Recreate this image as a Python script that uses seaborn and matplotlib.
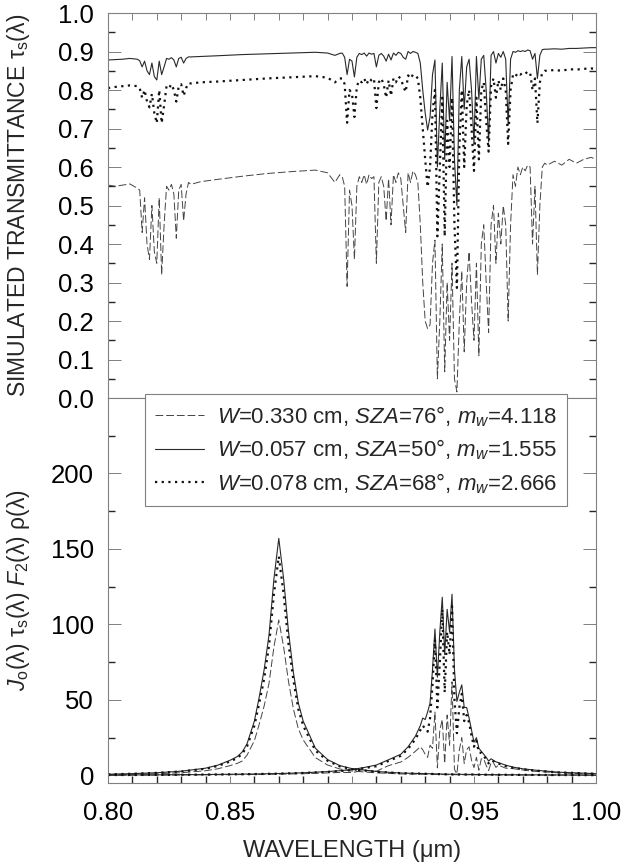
import numpy as np
import seaborn as sns
import matplotlib.pyplot as plt
from matplotlib.lines import Line2D
from matplotlib.ticker import MultipleLocator

sns.set_theme(style='ticks')
plt.rcParams['font.family'] = ['Liberation Sans', 'DejaVu Sans']
plt.rcParams['mathtext.fontset'] = 'custom'
plt.rcParams['mathtext.rm'] = 'Liberation Sans'
plt.rcParams['mathtext.it'] = 'Liberation Sans:italic'

# wavelength samples (nm) for the transmittance spectra
wl_top = [800, 803, 806, 809, 812,
          813, 814, 815, 816, 817, 818, 819, 820, 821, 822, 823, 824, 825,
          826, 827, 828, 829, 830, 831, 832, 833, 834,
          838, 845, 855, 865, 875, 885, 890, 893, 895,
          896, 897, 898, 899, 900,
          901, 902, 903, 904, 905, 906, 907, 908, 909, 910,
          911, 912, 913, 914, 915, 916, 917, 918, 919, 920,
          921, 922, 923, 924, 925, 926, 927, 928, 929, 930,
          931, 932, 933, 934, 935, 936, 937, 938, 939, 940,
          941, 942, 943, 944, 945, 946, 947, 948, 949, 950,
          951, 952, 953, 954, 955, 956, 957, 958, 959, 960,
          961, 962, 963, 964, 965, 966, 967, 968, 969, 970,
          971, 972, 973, 974, 975, 976, 977, 978, 979, 980,
          983, 986, 989, 992, 995, 998, 1000]

# W=0.330 cm (dashed)
tau_w330 = [0.553, 0.55, 0.553, 0.556, 0.545,
            0.54, 0.43, 0.52, 0.40, 0.36, 0.50, 0.38, 0.35, 0.52, 0.32, 0.45, 0.55, 0.54,
            0.555, 0.53, 0.415, 0.54, 0.555, 0.46, 0.53, 0.56, 0.555,
            0.562, 0.568, 0.576, 0.583, 0.588, 0.592, 0.585, 0.56, 0.58,
            0.575, 0.55, 0.29, 0.54, 0.50,
            0.36, 0.55, 0.575, 0.56, 0.58, 0.555, 0.58, 0.57, 0.575, 0.35,
            0.56, 0.575, 0.55, 0.46, 0.57, 0.45, 0.58, 0.56, 0.585, 0.57,
            0.50, 0.43, 0.585, 0.56, 0.59, 0.58, 0.56, 0.45, 0.30, 0.20,
            0.18, 0.19, 0.35, 0.41, 0.05, 0.20, 0.40, 0.068, 0.30, 0.15,
            0.35, 0.05, 0.016, 0.20, 0.33, 0.12, 0.30, 0.38, 0.25, 0.15,
            0.35, 0.11, 0.40, 0.45, 0.30, 0.17, 0.45, 0.50, 0.35, 0.48,
            0.40, 0.50, 0.45, 0.20, 0.45, 0.58, 0.55, 0.60, 0.58, 0.60,
            0.59, 0.605, 0.60, 0.40, 0.55, 0.32, 0.50, 0.60, 0.61, 0.605,
            0.615, 0.605, 0.62, 0.61, 0.62, 0.625, 0.62]

# W=0.057 cm (solid)
tau_w057 = [0.878, 0.879, 0.88, 0.882, 0.88,
            0.876, 0.86, 0.875, 0.85, 0.84, 0.87, 0.835, 0.826, 0.875, 0.84, 0.86, 0.882, 0.88,
            0.884, 0.878, 0.86, 0.882, 0.885, 0.87, 0.882, 0.886, 0.886,
            0.887, 0.889, 0.892, 0.894, 0.896, 0.898, 0.896, 0.89, 0.895,
            0.896, 0.885, 0.84, 0.88, 0.875,
            0.834, 0.885, 0.895, 0.892, 0.896, 0.888, 0.896, 0.893, 0.895, 0.86,
            0.89, 0.895, 0.888, 0.875, 0.893, 0.878, 0.896, 0.89, 0.898, 0.895,
            0.885, 0.88, 0.90, 0.895, 0.90, 0.898, 0.895, 0.87, 0.80, 0.74,
            0.696, 0.73, 0.84, 0.878, 0.60, 0.75, 0.87, 0.62, 0.82, 0.72,
            0.887, 0.62, 0.50, 0.80, 0.887, 0.75, 0.86, 0.88, 0.80, 0.66,
            0.887, 0.776, 0.88, 0.89, 0.80, 0.665, 0.89, 0.90, 0.87, 0.895,
            0.885, 0.90, 0.88, 0.71, 0.88, 0.90, 0.898, 0.902, 0.90, 0.902,
            0.90, 0.904, 0.902, 0.88, 0.895, 0.83, 0.89, 0.905, 0.906, 0.906,
            0.907, 0.906, 0.908, 0.908, 0.909, 0.91, 0.91]

# W=0.078 cm (dotted)
tau_w078 = [0.805, 0.808, 0.81, 0.812, 0.81,
            0.805, 0.78, 0.80, 0.77, 0.755, 0.79, 0.74, 0.714, 0.80, 0.714, 0.76, 0.81, 0.805,
            0.815, 0.80, 0.77, 0.81, 0.815, 0.785, 0.805, 0.818, 0.817,
            0.82, 0.822, 0.826, 0.83, 0.833, 0.836, 0.832, 0.82, 0.83,
            0.83, 0.815, 0.715, 0.80, 0.79,
            0.73, 0.81, 0.825, 0.82, 0.83, 0.815, 0.83, 0.825, 0.83, 0.753,
            0.82, 0.83, 0.815, 0.78, 0.825, 0.785, 0.83, 0.82, 0.835, 0.83,
            0.81, 0.795, 0.838, 0.83, 0.84, 0.838, 0.83, 0.78, 0.70, 0.62,
            0.548, 0.60, 0.74, 0.80, 0.42, 0.60, 0.78, 0.42, 0.72, 0.60,
            0.78, 0.45, 0.286, 0.65, 0.80, 0.60, 0.76, 0.80, 0.70, 0.59,
            0.78, 0.62, 0.80, 0.82, 0.72, 0.64, 0.81, 0.83, 0.78, 0.825,
            0.80, 0.83, 0.80, 0.66, 0.80, 0.84, 0.835, 0.845, 0.84, 0.845,
            0.842, 0.848, 0.845, 0.80, 0.83, 0.714, 0.82, 0.845, 0.85, 0.85,
            0.852, 0.85, 0.854, 0.853, 0.855, 0.856, 0.855]

# lower panel: 0.87 um channel
wl_ch1 = [800, 810, 820, 830, 840, 845, 850, 853, 855, 857, 860, 862, 864, 866, 868,
          870, 872, 874, 876, 878, 880, 885, 890, 895, 900, 910, 920, 940, 960, 980, 1000]
sig1_w057 = [0.8, 1.2, 1.8, 2.8, 4.8, 6.8, 10, 12.5, 15.5, 21, 36, 52, 70, 93, 130,
             157, 130, 95, 68, 48, 36, 18, 10.5, 6.5, 4.5, 2.6, 1.6, 0.8, 0.5, 0.35, 0.25]
sig1_w078 = [0.7, 1.1, 1.7, 2.6, 4.4, 6.3, 9.2, 11.5, 14.3, 19.3, 33, 48, 64, 86, 120,
             145, 120, 87, 63, 44, 33, 16.5, 9.7, 6.0, 4.1, 2.4, 1.5, 0.7, 0.45, 0.3, 0.2]
sig1_w330 = [0.5, 0.8, 1.1, 1.8, 3.1, 4.4, 6.5, 8.0, 9.5, 13.5, 23, 34, 46, 61, 85,
             103, 85, 62, 44, 31, 23.5, 11.8, 6.9, 4.3, 2.9, 1.7, 1.0, 0.5, 0.3, 0.2, 0.15]

# lower panel: 0.94 um channel
wl_ch2 = [800, 820, 840, 860, 870, 880, 890, 895, 900, 905, 910, 915, 920, 923, 926, 928, 929, 930,
          931, 932, 933, 934, 935, 936, 937, 938, 939, 940,
          941, 942, 943, 944, 945, 946, 947, 948, 949, 950,
          951, 952, 953, 954, 955, 956, 957, 958, 959, 960,
          963, 966, 970, 975, 980, 985, 990, 1000]
sig2_w057 = [0.31, 0.41, 0.61, 0.96, 1.27, 1.75, 2.54, 3.13, 3.9, 5.25, 6.9, 10.4, 14, 19, 26, 33, 38, 37,
             42, 48, 70, 97, 65, 95, 118, 80, 110, 95,
             120, 70, 49, 55, 60, 45, 45, 38, 30, 22,
             25, 18, 16, 14, 12, 9.5, 11, 10, 9, 8.5,
             6.8, 5.5, 4.4, 3.5, 2.8, 2.1, 1.8, 1.2]
sig2_w078 = [0.28, 0.35, 0.56, 0.89, 1.18, 1.62, 2.35, 2.9, 3.5, 4.85, 6.1, 9.6, 13, 17.6, 24, 30, 33, 31,
             29, 38, 60, 90, 45, 75, 110, 55, 95, 80,
             112, 50, 28, 45, 54, 36, 40, 35, 26, 19,
             23, 15, 15, 13, 10.5, 8, 10, 9.3, 8.2, 7.9,
             6.2, 5.1, 4.1, 3.2, 2.6, 2.0, 1.7, 1.1]
sig2_w330 = [0.2, 0.18, 0.4, 0.62, 0.82, 1.15, 1.65, 2.0, 1.9, 3.4, 2.8, 6.5, 8.9, 12, 16, 19, 17, 14,
             12, 20, 18, 42, 5, 30, 37, 8, 40, 20,
             62, 4, 1, 17, 25, 8, 17, 19, 10, 5.2,
             12, 3.5, 11, 11, 6.6, 3.3, 8.2, 8.3, 5.3, 6.8,
             4.8, 4.5, 3.6, 2.7, 2.2, 1.7, 1.4, 0.95]

labels = [r'$W$=0.330 cm, $SZA$=76°, $m_w$=4.118',
          r'$W$=0.057 cm, $SZA$=50°, $m_w$=1.555',
          r'$W$=0.078 cm, $SZA$=68°, $m_w$=2.666']

styles = [dict(color='#444444', linewidth=0.7, linestyle=(0, (8, 3))),
          dict(color='#2a2a2a', linewidth=0.8, linestyle='-'),
          dict(color='#111111', linewidth=1.6, linestyle=(0, (1, 2)))]

top_series = [tau_w330, tau_w057, tau_w078]
ch1_series = [sig1_w330, sig1_w057, sig1_w078]
ch2_series = [sig2_w330, sig2_w057, sig2_w078]

wl_top_um = np.array(wl_top) / 1000
wl_ch1_um = np.array(wl_ch1) / 1000
wl_ch2_um = np.array(wl_ch2) / 1000

fig = plt.figure(figsize=(6.3, 8.67), dpi=100)
ax1 = fig.add_axes([0.1714, 0.5409, 0.7746, 0.4441])
ax2 = fig.add_axes([0.1714, 0.0969, 0.7746, 0.4441])

for vals, st in zip(top_series, styles):
    sns.lineplot(x=wl_top_um, y=vals, ax=ax1, sort=False, estimator=None, **st)

for v1, v2, st in zip(ch1_series, ch2_series, styles):
    sns.lineplot(x=wl_ch1_um, y=v1, ax=ax2, sort=False, estimator=None, **st)
    sns.lineplot(x=wl_ch2_um, y=v2, ax=ax2, sort=False, estimator=None, **st)

spine_col = '#808080'
tick_fs = 18.5
for ax in (ax1, ax2):
    ax.set_xlim(0.8, 1.0)
    for s in ax.spines.values():
        s.set_color(spine_col)
        s.set_linewidth(0.8)
    ax.tick_params(colors=spine_col, labelcolor='black', labelsize=tick_fs, width=0.7)

# upper panel
ax1.set_ylim(0, 1.0)
ax1.yaxis.set_major_locator(MultipleLocator(0.1))
ax1.yaxis.set_minor_locator(MultipleLocator(0.05))
ax1.yaxis.set_major_formatter(plt.FormatStrFormatter('%.1f'))
ax1.xaxis.set_major_locator(MultipleLocator(0.01))
ax1.tick_params(axis='x', which='both', direction='in', top=True, bottom=False,
                labeltop=False, labelbottom=False, length=5)
ax1.tick_params(axis='y', which='both', direction='in', left=True, right=True, pad=10)
ax1.tick_params(axis='y', which='major', length=9.4)
ax1.tick_params(axis='y', which='minor', length=5)
ax1.set_ylabel('SIMULATED TRANSMITTANCE τ$_{\\mathrm{s}}$(λ)', fontsize=16.5)
ax1.yaxis.set_label_coords(-0.155, 0.5)

# lower panel
ax2.set_ylim(-5, 250)
ax2.set_yticks([0, 50, 100, 150, 200])
ax2.yaxis.set_minor_locator(plt.FixedLocator([25, 75, 125, 175, 225]))
ax2.xaxis.set_major_locator(MultipleLocator(0.05))
ax2.xaxis.set_minor_locator(MultipleLocator(0.01))
ax2.xaxis.set_major_formatter(plt.FormatStrFormatter('%.2f'))
ax2.tick_params(axis='x', which='both', direction='in', top=False, bottom=True, length=5, pad=13)
ax2.tick_params(axis='y', which='both', direction='in', left=True, right=True, pad=10)
ax2.tick_params(axis='y', which='major', length=9.4)
ax2.tick_params(axis='y', which='minor', length=5)
ax2.set_ylabel(r'$J_{\mathrm{o}}$(λ) τ$_{\mathrm{s}}$(λ) $F_{\mathrm{2}}$(λ) ρ(λ)', fontsize=16.5)
ax2.yaxis.set_label_coords(-0.155, 0.5)
ax2.set_xlabel('WAVELENGTH (μm)', fontsize=17, labelpad=11)

handles = [Line2D([], [], **st) for st in styles]
leg = ax2.legend(handles, labels, loc='upper left', bbox_to_anchor=(0.0758, 1.0104),
                 borderaxespad=0, frameon=True, fancybox=False, framealpha=1,
                 edgecolor=spine_col, fontsize=16, handlelength=2.2,
                 handletextpad=0.6, labelspacing=0.4, borderpad=0.45)
leg.get_frame().set_linewidth(0.8)

fig.savefig('out.png', dpi=100, facecolor='white')
